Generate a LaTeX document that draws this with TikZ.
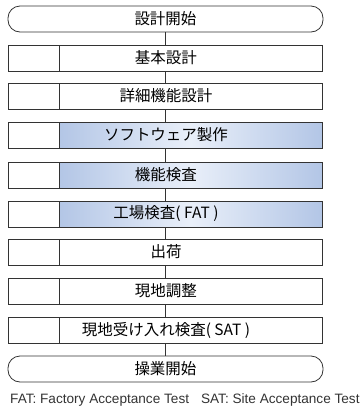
\documentclass[tikz,border=0pt]{standalone}
\usepackage{fontspec}
\setmainfont{Liberation Sans}
\newfontfamily\jp{Noto Sans CJK JP}
\definecolor{edgeblue}{HTML}{B3C6E6}
\definecolor{midblue}{HTML}{E9EFF9}
\definecolor{linegray}{HTML}{333333}
\tikzset{
  term/.style={draw=linegray, line width=0.8pt, rounded corners=12pt, minimum width=315pt, minimum height=26pt, inner sep=0pt, font=\jp\fontsize{15.5}{17}\selectfont},
  mainbox/.style={draw=linegray, line width=0.8pt, minimum width=263pt, minimum height=26pt, inner sep=0pt},
  shadedbox/.style={mainbox, left color=edgeblue, right color=edgeblue, middle color=midblue},
  sidebox/.style={draw=linegray, line width=0.8pt, minimum width=51pt, minimum height=26pt, inner sep=0pt},
  lbl/.style={inner sep=0pt, font=\jp\fontsize{15.5}{17}\selectfont},
  conn/.style={draw=linegray, line width=0.8pt}
}
\begin{document}
\begin{tikzpicture}[x=1pt,y=-1pt]
\useasboundingbox (0,0) rectangle (363,408);
\node[term] (t1) at (165.5,19) {設計開始};
\foreach \i/\yc/\txt/\sty in {1/58/基本設計/mainbox, 2/96/詳細機能設計/mainbox, 3/135/ソフトウェア製作/shadedbox, 4/175/機能検査/shadedbox, 5/214/工場検査( FAT )/shadedbox, 6/252/出荷/mainbox, 7/291/現地調整/mainbox, 8/330/現地受け入れ検査( SAT )/mainbox}{
  \node[\sty] (b\i) at (190.5,\yc) {};
  \node[sidebox] (s\i) at (33.5,\yc) {};
  \node[lbl] (l\i) at (166,\yc) {\txt};
}
\node[term] (t2) at (165.5,369) {操業開始};
\draw[conn] (t1.south) -- (t1.south |- b1.north);
\foreach \a/\b in {1/2,2/3,3/4,4/5,5/6,6/7,7/8}{
  \draw[conn] (t1.south |- b\a.south) -- (t1.south |- b\b.north);
}
\draw[conn] (t1.south |- b8.south) -- (t2.north);
\node[anchor=west, inner sep=0pt, font=\fontsize{13.6}{15}\selectfont, text=linegray] (fn) at (10,400) {FAT: Factory Acceptance Test\hspace{12pt}SAT: Site Acceptance Test};
\end{tikzpicture}
\end{document}
